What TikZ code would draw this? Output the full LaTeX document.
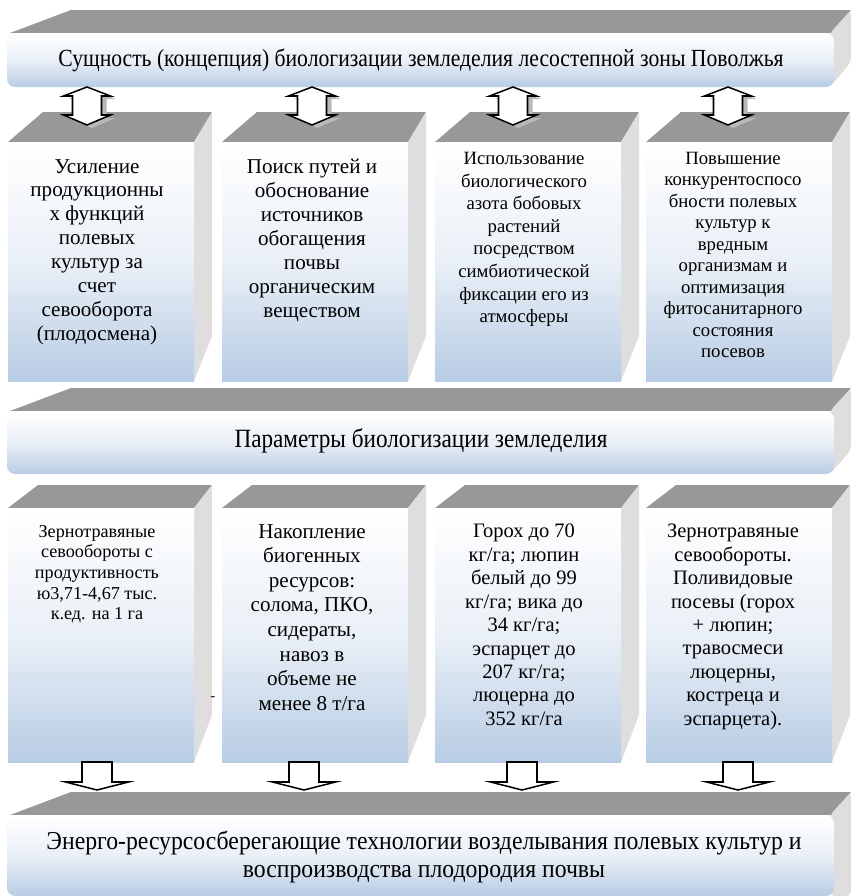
\documentclass[tikz,border=0pt]{standalone}
\usepackage{fontspec}
\setmainfont{Liberation Serif}
\newfontfamily\barfont{Liberation Serif}[FakeStretch=0.88]
\newfontfamily\widebarfont{Liberation Serif}[FakeStretch=0.92]

\definecolor{roofgray}{RGB}{152,152,152}
\definecolor{wallgray}{RGB}{222,222,222}
\definecolor{paleblue}{RGB}{184,204,228}

\tikzset{
  roof/.style={fill=roofgray},
  wall/.style={fill=wallgray},
  face/.style={top color=white, bottom color=paleblue, middle color=white!70!paleblue},
  bartext/.style={font=\barfont\fontsize{21}{23}\selectfont, align=center},
  celltext/.style={align=center, anchor=north, inner sep=0pt},
  blockarrow/.style={draw=black, fill=white, line width=1.3pt, line join=miter},
  arrowshade/.style={fill=gray!55},
}

\begin{document}
\begin{tikzpicture}[x=0.03cm, y=-0.03cm]
\useasboundingbox (0,0) rectangle (851,896);

% top bar
\fill[roof] (10,33) -- (71,10) -- (851,10) -- (832,33) -- cycle;
\fill[wall, rounded corners=4] (830,33) -- (851,10) -- (851,62) -- (830,87) -- cycle;
\shade[face, rounded corners=7] (7,33) rectangle (834,87);
\node[bartext] (essence) at (421,60) {Сущность (концепция) биологизации земледелия лесостепной зоны Поволжья};

% upper boxes
\fill[roof] (8,142) -- (43,112) -- (212,112) -- (194,142) -- cycle;
\fill[wall] (194,142) -- (212,112) -- (212,336) -- (194,381) -- cycle;
\shade[face] (8,142) rectangle (194,381);

\fill[roof] (222,142) -- (257,112) -- (426,112) -- (408,142) -- cycle;
\fill[wall] (408,142) -- (426,112) -- (426,336) -- (408,381) -- cycle;
\shade[face] (222,142) rectangle (408,381);

\fill[roof] (435,142) -- (470,112) -- (639,112) -- (621,142) -- cycle;
\fill[wall] (621,142) -- (639,112) -- (639,336) -- (621,381) -- cycle;
\shade[face] (435,142) rectangle (621,381);

\fill[roof] (646,142) -- (681,112) -- (850,112) -- (832,142) -- cycle;
\fill[wall] (832,142) -- (850,112) -- (850,336) -- (832,381) -- cycle;
\shade[face] (646,142) rectangle (832,381);

\node[celltext, font=\fontsize{18}{20.4}\selectfont] (yield) at (97,159) {Усиление\\продукционны\\х функций\\полевых\\культур за\\счет\\севооборота\\(плодосмена)};
\node[celltext, font=\fontsize{18}{20.4}\selectfont] (organic) at (312,159) {Поиск путей и\\обоснование\\источников\\обогащения\\почвы\\органическим\\веществом};
\node[celltext, font=\fontsize{16}{19.3}\selectfont] (nitrogen) at (524,152) {Использование\\биологического\\азота бобовых\\растений\\посредством\\симбиотической\\фиксации его из\\атмосферы};
\node[celltext, font=\fontsize{16}{18.3}\selectfont] (compete) at (733,152) {Повышение\\конкурентоспосо\\бности полевых\\культур к\\вредным\\организмам и\\оптимизация\\фитосанитарного\\состояния\\посевов};

% double arrows
\fill[arrowshade, shift={(92,3)}] (0,87) -- (23.5,96) -- (14.5,96) -- (14.5,115) -- (23.5,115) -- (0,125) -- (-23.5,115) -- (-14.5,115) -- (-14.5,96) -- (-23.5,96) -- cycle;
\draw[blockarrow, shift={(87,0)}] (0,87) -- (23.5,96) -- (14.5,96) -- (14.5,115) -- (23.5,115) -- (0,125) -- (-23.5,115) -- (-14.5,115) -- (-14.5,96) -- (-23.5,96) -- cycle;
\fill[arrowshade, shift={(317,3)}] (0,87) -- (23.5,96) -- (14.5,96) -- (14.5,115) -- (23.5,115) -- (0,125) -- (-23.5,115) -- (-14.5,115) -- (-14.5,96) -- (-23.5,96) -- cycle;
\draw[blockarrow, shift={(312,0)}] (0,87) -- (23.5,96) -- (14.5,96) -- (14.5,115) -- (23.5,115) -- (0,125) -- (-23.5,115) -- (-14.5,115) -- (-14.5,96) -- (-23.5,96) -- cycle;
\fill[arrowshade, shift={(518,3)}] (0,87) -- (23.5,96) -- (14.5,96) -- (14.5,115) -- (23.5,115) -- (0,125) -- (-23.5,115) -- (-14.5,115) -- (-14.5,96) -- (-23.5,96) -- cycle;
\draw[blockarrow, shift={(513,0)}] (0,87) -- (23.5,96) -- (14.5,96) -- (14.5,115) -- (23.5,115) -- (0,125) -- (-23.5,115) -- (-14.5,115) -- (-14.5,96) -- (-23.5,96) -- cycle;
\fill[arrowshade, shift={(733,3)}] (0,87) -- (23.5,96) -- (14.5,96) -- (14.5,115) -- (23.5,115) -- (0,125) -- (-23.5,115) -- (-14.5,115) -- (-14.5,96) -- (-23.5,96) -- cycle;
\draw[blockarrow, shift={(728,0)}] (0,87) -- (23.5,96) -- (14.5,96) -- (14.5,115) -- (23.5,115) -- (0,125) -- (-23.5,115) -- (-14.5,115) -- (-14.5,96) -- (-23.5,96) -- cycle;

% middle bar
\fill[roof] (10,411) -- (71,388) -- (851,388) -- (832,411) -- cycle;
\fill[wall, rounded corners=4] (830,411) -- (851,388) -- (851,450) -- (830,474) -- cycle;
\shade[face, rounded corners=7] (7,411) rectangle (834,474);
\node[bartext, font=\barfont\fontsize{22.5}{24}\selectfont] (params) at (421,441) {Параметры биологизации земледелия};

% lower boxes
\fill[roof] (8,508) -- (38,485) -- (212,485) -- (194,508) -- cycle;
\fill[wall] (194,508) -- (212,485) -- (212,715) -- (194,762) -- cycle;
\shade[face] (8,508) rectangle (194,762);

\fill[roof] (222,508) -- (252,485) -- (426,485) -- (408,508) -- cycle;
\fill[wall] (408,508) -- (426,485) -- (426,715) -- (408,762) -- cycle;
\shade[face] (222,508) rectangle (408,762);

\fill[roof] (435,508) -- (465,485) -- (639,485) -- (621,508) -- cycle;
\fill[wall] (621,508) -- (639,485) -- (639,715) -- (621,762) -- cycle;
\shade[face] (435,508) rectangle (621,762);

\fill[roof] (646,508) -- (676,485) -- (850,485) -- (832,508) -- cycle;
\fill[wall] (832,508) -- (850,485) -- (850,715) -- (832,762) -- cycle;
\shade[face] (646,508) rectangle (832,762);

\node[celltext, font=\fontsize{15.5}{17.6}\selectfont] (rotation) at (97,525) {Зернотравяные\\севообороты с\\продуктивность\\ю3,71-4,67 тыс.\\к.ед. на 1 га};
\node[celltext, font=\fontsize{18}{21}\selectfont] (biogen) at (312,524) {Накопление\\биогенных\\ресурсов:\\солома, ПКО,\\сидераты,\\навоз в\\объеме не\\менее 8 т/га};
\node[celltext, font=\fontsize{17.5}{20}\selectfont] (legumes) at (524,524) {Горох до 70\\кг/га; люпин\\белый до 99\\кг/га; вика до\\34 кг/га;\\эспарцет до\\207 кг/га;\\люцерна до\\352 кг/га};
\node[celltext, font=\fontsize{17.5}{20}\selectfont] (mixtures) at (733,524) {Зернотравяные\\севообороты.\\Поливидовые\\посевы (горох\\+ люпин;\\травосмеси\\люцерны,\\костреца и\\эспарцета).};
\node[font=\fontsize{12}{12}\selectfont, inner sep=0pt] (dash) at (213,699) {-};

% down arrows
\draw[blockarrow, shift={(97,0)}] (-15,762) -- (15,762) -- (15,782) -- (31.5,782) -- (0,790) -- (-31.5,782) -- (-15,782) -- cycle;
\draw[blockarrow, shift={(304,0)}] (-15,762) -- (15,762) -- (15,782) -- (31.5,782) -- (0,790) -- (-31.5,782) -- (-15,782) -- cycle;
\draw[blockarrow, shift={(522,0)}] (-15,762) -- (15,762) -- (15,782) -- (31.5,782) -- (0,790) -- (-31.5,782) -- (-15,782) -- cycle;
\draw[blockarrow, shift={(738,0)}] (-15,762) -- (15,762) -- (15,782) -- (31.5,782) -- (0,790) -- (-31.5,782) -- (-15,782) -- cycle;

% bottom bar
\fill[roof] (10,815) -- (71,792) -- (851,792) -- (832,815) -- cycle;
\fill[wall, rounded corners=4] (830,815) -- (851,792) -- (851,896) -- (830,896) -- cycle;
\shade[face, rounded corners=7] (7,815) rectangle (834,896);
\node[bartext, font=\widebarfont\fontsize{22}{23.5}\selectfont] (tech) at (424,857) {Энерго-ресурсосберегающие технологии возделывания полевых культур и\\воспроизводства плодородия почвы};

\end{tikzpicture}
\end{document}
